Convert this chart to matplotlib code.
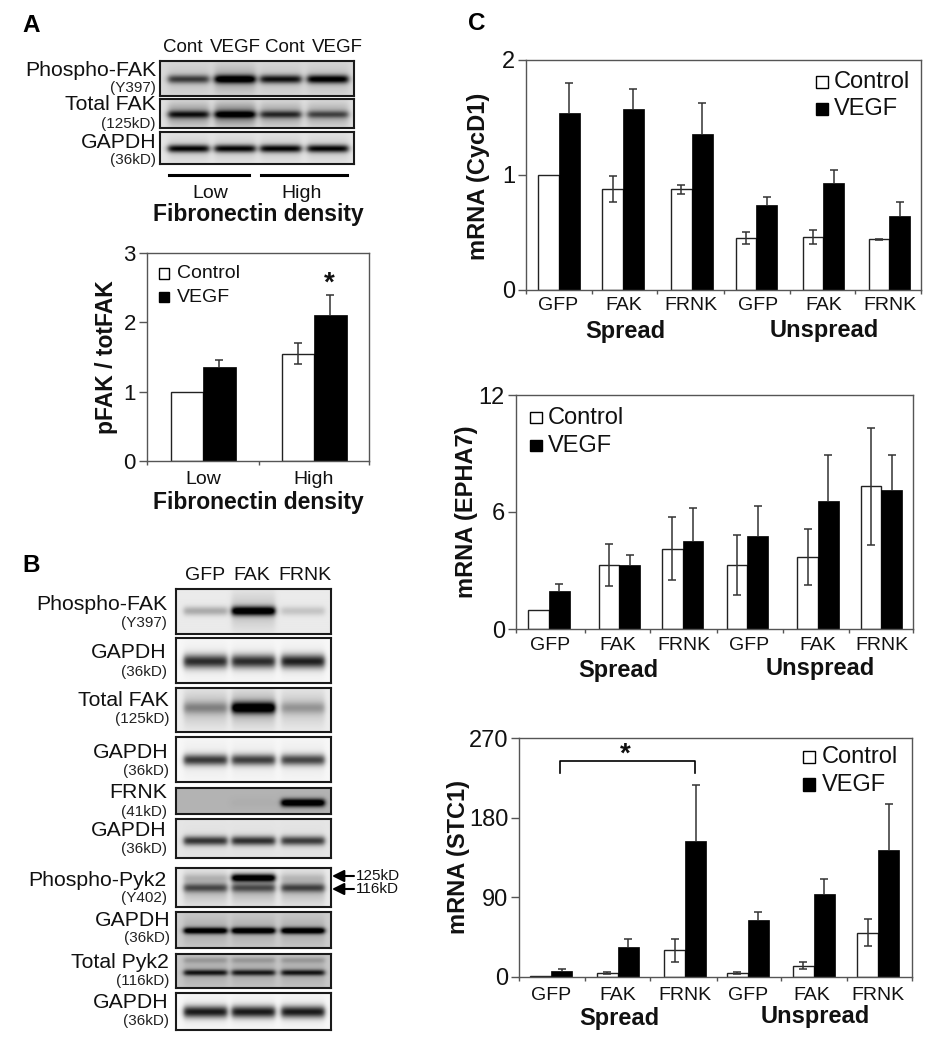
"""Western blots and mRNA bar charts (panels A, B, C)."""
import matplotlib
matplotlib.use("Agg")
import matplotlib.pyplot as plt
import numpy as np
from matplotlib.lines import Line2D
from matplotlib.patches import Rectangle

plt.rcParams["font.family"] = ["Liberation Sans", "DejaVu Sans"]

W, H = 936, 1050
TEXT = "#111111"
AXIS = "#555555"

# panel A densitometry
A_GROUPS = ["Low", "High"]
A_CONTROL = [1.0, 1.55]
A_VEGF = [1.36, 2.1]
A_CONTROL_ERR = [0, 0.15]
A_VEGF_ERR = [0.1, 0.3]

# panel C
C_GROUPS = ["GFP", "FAK", "FRNK", "GFP", "FAK", "FRNK"]

CYCD1_CONTROL = [1.0, 0.875, 0.875, 0.45, 0.46, 0.44]
CYCD1_VEGF = [1.54, 1.57, 1.35, 0.74, 0.93, 0.64]
CYCD1_CONTROL_ERR = [0, 0.11, 0.04, 0.05, 0.06, 0.005]
CYCD1_VEGF_ERR = [0.26, 0.17, 0.27, 0.065, 0.11, 0.12]

EPHA7_CONTROL = [1.0, 3.26, 4.12, 3.26, 3.68, 7.33]
EPHA7_VEGF = [1.93, 3.26, 4.5, 4.77, 6.58, 7.11]
EPHA7_CONTROL_ERR = [0, 1.08, 1.6, 1.54, 1.44, 3.0]
EPHA7_VEGF_ERR = [0.38, 0.53, 1.72, 1.54, 2.34, 1.81]

STC1_CONTROL = [1.1, 3.8, 30, 4.5, 12.5, 50]
STC1_VEGF = [6, 34, 154, 64, 94, 143]
STC1_CONTROL_ERR = [0, 1, 13, 1, 4, 15]
STC1_VEGF_ERR = [2.7, 9, 63, 9, 17, 52.6]

# blot band darkness per lane: (band height in box, band thickness, lane values)
A_BLOT_NAMES = ["Phospho-FAK", "Total FAK", "GAPDH"]
A_BLOT_SUBS = ["(Y397)", "(125kD)", "(36kD)"]
A_BLOT_BANDS = [
    [(0.52, 0.12, [0.55, 0.85, 0.72, 0.82])],
    [(0.55, 0.12, [0.55, 0.65, 0.5, 0.42])],
    [(0.52, 0.12, [0.8, 0.8, 0.8, 0.8])],
]
A_BLOT_SMEAR = [[0.08, 0.2, 0.08, 0.1], [0.3, 0.4, 0.25, 0.22], [0.1, 0.1, 0.1, 0.1]]
A_BLOT_BG = [0.15, 0.12, 0.1]

B_BLOT_NAMES = ["Phospho-FAK", "GAPDH", "Total FAK", "GAPDH", "FRNK",
                "GAPDH", "Phospho-Pyk2", "GAPDH", "Total Pyk2", "GAPDH"]
B_BLOT_SUBS = ["(Y397)", "(36kD)", "(125kD)", "(36kD)", "(41kD)",
               "(36kD)", "(Y402)", "(36kD)", "(116kD)", "(36kD)"]
B_BLOT_BANDS = [
    [(0.5, 0.1, [0.25, 0.98, 0.15])],
    [(0.52, 0.15, [0.75, 0.75, 0.8])],
    [(0.45, 0.13, [0.25, 0.95, 0.2])],
    [(0.52, 0.12, [0.7, 0.68, 0.65])],
    [(0.57, 0.16, [0.0, 0.02, 0.9])],
    [(0.56, 0.12, [0.68, 0.7, 0.65])],
    [(0.25, 0.1, [0.1, 1.0, 0.08]), (0.51, 0.11, [0.45, 0.42, 0.48])],
    [(0.52, 0.09, [0.85, 0.9, 0.9])],
    [(0.18, 0.09, [0.15, 0.15, 0.15]), (0.55, 0.09, [0.62, 0.6, 0.62])],
    [(0.51, 0.16, [0.82, 0.82, 0.82])],
]
B_BLOT_SMEAR = [[0, 0.15, 0], [0.05, 0.05, 0.05], [0.18, 0.25, 0.15], [0.05, 0.05, 0.05], [0, 0, 0],
                [0.02, 0.02, 0.02], [0.2, 0.22, 0.2], [0.12, 0.12, 0.12], [0.1, 0.1, 0.1], [0.05, 0.05, 0.05]]
B_BLOT_BG = [0.08, 0.03, 0.07, 0.03, 0.3, 0.1, 0.08, 0.2, 0.22, 0.03]


def add_axes(fig, left, top, right, bottom):
    return fig.add_axes([left / W, 1 - bottom / H, (right - left) / W, (bottom - top) / H])


def ftext(fig, x, y, s, size=14, ha="center", weight="normal", color=TEXT, rotation=0):
    fig.text(x / W, 1 - y / H, s, fontsize=size, ha=ha, va="center", fontweight=weight,
             color=color, rotation=rotation, rotation_mode="anchor" if rotation else "default")


def fline(fig, xs, ys, lw=1.0, color="black"):
    fig.add_artist(Line2D([x / W for x in xs], [1 - y / H for y in ys], lw=lw, color=color))


def square(fig, x0, y0, x1, y1, face):
    fig.add_artist(Rectangle((x0 / W, 1 - y1 / H), (x1 - x0) / W, (y1 - y0) / H, facecolor=face,
                             edgecolor="black", linewidth=1.0, transform=fig.transFigure))


def bar_chart(fig, box, mids, width, control, vegf, control_err, vegf_err, ylim, yticks, xticks, size=17):
    left, top, right, bottom = box
    ax = add_axes(fig, left, top, right, bottom)
    x_c = [m - width / 2 for m in mids]
    x_v = [m + width / 2 for m in mids]
    ax.bar(x_c, control, width=width, color="white", edgecolor="#222222", linewidth=1.0, zorder=2)
    ax.bar(x_v, vegf, width=width, color="black", edgecolor="black", linewidth=0.5, zorder=2)
    err = dict(fmt="none", ecolor="#333333", elinewidth=1.1, capsize=2.8, capthick=1.1, zorder=3)
    keep = [i for i, e in enumerate(control_err) if e > 0]
    ax.errorbar([x_c[i] for i in keep], [control[i] for i in keep], yerr=[control_err[i] for i in keep], **err)
    # the lower whisker of a black bar does not show in the figure
    vegf_bars = ax.errorbar(x_v, vegf, yerr=[[0] * len(vegf_err), vegf_err], **err)
    vegf_bars[1][0].set_visible(False)
    ax.set_xlim(left, right)
    ax.set_ylim(*ylim)
    ax.set_xticks(xticks)
    ax.set_xticklabels([])
    ax.set_yticks(yticks)
    ax.set_yticklabels([str(t) for t in yticks], fontsize=size, color=TEXT)
    ax.tick_params(axis="y", length=6, width=1, color=AXIS, pad=2)
    ax.tick_params(axis="x", length=3, width=1, color=AXIS)
    for spine in ax.spines.values():
        spine.set_color(AXIS)
        spine.set_linewidth(1.0)
    return ax


def draw_blot(fig, box, lanes, half, bands, smear, bg):
    left, top, right, bottom = box
    ax = add_axes(fig, left, top, right, bottom)
    ny = max(int((bottom - top) * 3), 10)
    nx = int((right - left) * 3)
    xx = np.linspace(0, 1, nx)[None, :]
    yy = np.linspace(0, 1, ny)[:, None]
    dark = np.full((ny, nx), float(bg))
    for i, c in enumerate(lanes):
        lane = 0.5 * (np.tanh((xx - c + half) / 0.018) - np.tanh((xx - c - half) / 0.018))
        yc = bands[-1][0]
        dark += smear[i] * lane * np.exp(-((yy - yc) / 0.38) ** 2)
        for yb, sig, amps in bands:
            dark += amps[i] * lane * np.exp(-((yy - yb) / sig) ** 2)
    ax.imshow(1 - np.clip(dark, 0, 1), cmap="gray", vmin=0, vmax=1, aspect="auto", interpolation="bilinear")
    ax.set_xticks([])
    ax.set_yticks([])
    for spine in ax.spines.values():
        spine.set_color("#1a1a1a")
        spine.set_linewidth(1.5)


def legend(fig, sq_x, sq_y, text_x, text_y, size):
    for (y0, y1), ty, face, name in zip(sq_y, text_y, ["white", "black"], ["Control", "VEGF"]):
        square(fig, sq_x[0], y0, sq_x[1], y1, face)
        ftext(fig, text_x, ty, name, size=size, ha="left")


def main():
    fig = plt.figure(figsize=(W / 100, H / 100), dpi=100)

    ftext(fig, 22, 25, "A", size=17.5, ha="left", weight="bold", color="black")
    ftext(fig, 22, 565, "B", size=17.5, ha="left", weight="bold", color="black")
    ftext(fig, 468, 24, "C", size=17.5, ha="left", weight="bold", color="black")

    # panel A blots
    a_boxes = [(160, 61, 354, 96), (160, 99, 354, 128), (160, 132, 354, 164)]
    a_name_y = [70, 105, 142]
    a_sub_y = [88, 124, 160]
    for i, box in enumerate(a_boxes):
        draw_blot(fig, box, [0.147, 0.387, 0.623, 0.866], 0.105, A_BLOT_BANDS[i], A_BLOT_SMEAR[i], A_BLOT_BG[i])
        ftext(fig, 156, a_name_y[i], A_BLOT_NAMES[i], size=15.3, ha="right")
        ftext(fig, 156, a_sub_y[i], A_BLOT_SUBS[i], size=11, ha="right", color="#222222")
    for x, name in zip([183, 235, 285, 337], ["Cont", "VEGF", "Cont", "VEGF"]):
        ftext(fig, x, 48, name, size=13.5)
    fline(fig, [169, 249], [175, 175], lw=2.2)
    fline(fig, [261, 347], [175, 175], lw=2.2)
    ftext(fig, 210, 193, A_GROUPS[0], size=14)
    ftext(fig, 302, 193, A_GROUPS[1], size=14)
    ftext(fig, 258, 215, "Fibronectin density", size=16.5, weight="bold")

    # panel A bars
    bar_chart(fig, (147, 253, 369, 461), [203, 314], 32.5, A_CONTROL, A_VEGF, A_CONTROL_ERR, A_VEGF_ERR,
              (0, 3), [0, 1, 2, 3], [147, 259, 369], size=16)
    legend(fig, (159, 169), [(268, 279), (292, 302)], 177, [273, 297], 14)
    ftext(fig, 329, 284, "*", size=20, weight="bold")
    ftext(fig, 203, 480, A_GROUPS[0], size=14)
    ftext(fig, 314, 480, A_GROUPS[1], size=14)
    ftext(fig, 258, 502, "Fibronectin density", size=16.5, weight="bold")
    ftext(fig, 107, 357, "pFAK / totFAK", size=16.5, weight="bold", rotation=90)

    # panel B blots
    b_boxes = [(176, 589, 331, 634), (176, 638, 331, 683), (176, 688, 331, 732), (176, 737, 331, 782),
               (176, 788, 331, 814), (176, 819, 331, 858), (176, 868, 331, 907), (176, 912, 331, 948),
               (176, 954, 331, 988), (176, 993, 331, 1030)]
    b_right = [167, 167, 169, 169, 167, 167, 167, 170, 169, 169]
    b_name_y = [605, 653, 701, 753, 793, 831, 880, 920, 963, 1002]
    b_sub_y = [623, 672, 719, 771, 812, 849, 898, 938, 981, 1021]
    for i, box in enumerate(b_boxes):
        draw_blot(fig, box, [0.19, 0.5, 0.82], 0.14, B_BLOT_BANDS[i], B_BLOT_SMEAR[i], B_BLOT_BG[i])
        ftext(fig, b_right[i], b_name_y[i], B_BLOT_NAMES[i], size=15.3, ha="right")
        ftext(fig, b_right[i], b_sub_y[i], B_BLOT_SUBS[i], size=11, ha="right", color="#222222")
    for x, name in zip([205, 252, 305], C_GROUPS[:3]):
        ftext(fig, x, 575, name, size=14)
    for y, name in zip([876, 889], ["125kD", "116kD"]):
        fig.add_artist(plt.Annotation("", xy=(332 / W, 1 - y / H), xytext=(354 / W, 1 - y / H),
                                      xycoords="figure fraction", textcoords="figure fraction",
                                      arrowprops=dict(arrowstyle="-|>", color="black", lw=1.5, mutation_scale=18,
                                                      shrinkA=0, shrinkB=0)))
        ftext(fig, 356, y, name, size=11, ha="left")

    # panel C: CycD1
    bar_chart(fig, (526, 59.5, 920.7, 290), [559, 623, 691.7, 756.3, 823.3, 889.3], 20.8,
              CYCD1_CONTROL, CYCD1_VEGF, CYCD1_CONTROL_ERR, CYCD1_VEGF_ERR, (0, 2), [0, 1, 2],
              [526, 592.3, 657.3, 723.7, 789.7, 855, 920.7])
    legend(fig, (815.7, 827.7), [(76, 88), (103, 115)], 834, [82, 109], 17)
    for x, name in zip([558, 624, 691, 758, 824, 890], C_GROUPS):
        ftext(fig, x, 305, name, size=14)
    ftext(fig, 625, 331, "Spread", size=17, weight="bold")
    ftext(fig, 824, 330, "Unspread", size=17, weight="bold")
    ftext(fig, 479, 176, "mRNA (CycD1)", size=17, weight="bold", rotation=90)

    # panel C: EPHA7
    bar_chart(fig, (516, 395, 912.7, 629), [549, 619.3, 682.7, 747.3, 818, 881.3], 20.7,
              EPHA7_CONTROL, EPHA7_VEGF, EPHA7_CONTROL_ERR, EPHA7_VEGF_ERR, (0, 12), [0, 6, 12],
              [516, 585, 650, 716.7, 783.3, 848.7, 912.7])
    legend(fig, (530, 542), [(412, 423), (440, 451)], 548, [418, 446], 17)
    for x, name in zip([550, 618, 684, 749, 818, 882], C_GROUPS):
        ftext(fig, x, 646, name, size=14)
    ftext(fig, 618, 670, "Spread", size=17, weight="bold")
    ftext(fig, 820, 668, "Unspread", size=17, weight="bold")
    ftext(fig, 467, 512, "mRNA (EPHA7)", size=17, weight="bold", rotation=90)

    # panel C: STC1
    bar_chart(fig, (519.3, 738.3, 912.3, 976.7), [551.3, 617.7, 685, 747.7, 814, 878.3], 21,
              STC1_CONTROL, STC1_VEGF, STC1_CONTROL_ERR, STC1_VEGF_ERR, (0, 270), [0, 90, 180, 270],
              [519.3, 585, 650, 716.7, 780.7, 846.7, 912.3])
    legend(fig, (803, 815), [(751, 763), (778, 791)], 822, [757, 785], 17)
    for x, name in zip([551, 618, 685, 748, 812, 878], C_GROUPS):
        ftext(fig, x, 995, name, size=14)
    ftext(fig, 619, 1018, "Spread", size=17, weight="bold")
    ftext(fig, 815, 1017, "Unspread", size=17, weight="bold")
    ftext(fig, 459, 857, "mRNA (STC1)", size=17, weight="bold", rotation=90)
    fline(fig, [560, 560, 695, 695], [773, 761, 761, 773], lw=1.2)
    ftext(fig, 625, 755, "*", size=20, weight="bold")

    fig.savefig("out.png", dpi=100, facecolor="white")


if __name__ == "__main__":
    main()
